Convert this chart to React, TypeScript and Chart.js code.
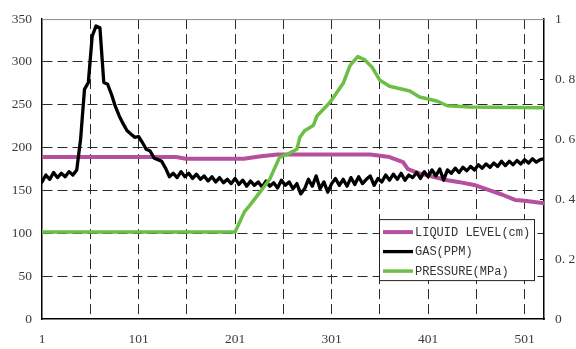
import React, { useEffect, useRef } from "react";
import { Chart, registerables } from "chart.js";

Chart.register(...registerables);

// ---- tick labels / grid positions ----
const xGridValues = [1, 51, 101, 151, 201, 251, 301, 351, 401, 451, 501];
const xTickLabels = ["1", "101", "201", "301", "401", "501"];
const rightTickLabels = ["0", "0. 2", "0. 4", "0. 6", "0. 8", "1"];

// ---- series ----
const seriesNames = ["LIQUID LEVEL(cm)", "GAS(PPM)", "PRESSURE(MPa)"];
const seriesColors = ["#B5509F", "#000000", "#6DBE45"];

// GAS (PPM), sampled every 4 samples starting at sample 1
const gasStart = 1;
const gasStep = 4;
const gasValues = [
  160, 168, 163, 171, 165, 170, 166, 172, 168, 174,
  210, 268, 276, 330, 342, 340, 276, 274, 262, 248,
  237, 228, 220, 216, 212, 213, 206, 198, 196, 188,
  186, 184, 176, 166, 170, 165, 172, 166, 170, 164,
  169, 163, 167, 161, 166, 160, 165, 159, 163, 158,
  164, 157, 162, 155, 161, 156, 160, 154, 161, 155,
  159, 153, 162, 156, 160, 152, 158, 146, 152, 163,
  155, 167, 152, 160, 148, 158, 164, 156, 163, 155,
  165, 157, 166, 158, 163, 167, 156, 164, 160, 168,
  162, 169, 163, 170, 162, 168, 165, 171, 164, 172,
  166, 174, 167, 175, 162, 174, 170, 176, 171, 177,
  173, 178, 174, 180, 176, 181, 177, 182, 178, 184,
  179, 184, 180, 185, 181, 186, 182, 187, 183, 186,
  187,
];

// LIQUID LEVEL (cm)
const levelIndex = [1, 140, 150, 210, 228, 245, 341, 361, 375, 380, 392, 421, 432, 450, 465, 478, 491, 501, 521];
const levelValues = [189, 189, 187, 187, 190, 192, 192, 189, 183, 175, 170, 162, 160, 156, 150, 145, 139, 138, 135];

// PRESSURE (MPa)
const pressureIndex = [1, 201, 211, 216, 227, 237, 247, 255, 265, 268, 273, 282, 286, 296, 301, 313, 320, 328, 335, 343, 351, 361, 382, 392, 410, 421, 444, 521];
const pressureValues = [0.29, 0.29, 0.359, 0.378, 0.424, 0.467, 0.539, 0.549, 0.566, 0.605, 0.628, 0.645, 0.678, 0.711, 0.73, 0.786, 0.845, 0.875, 0.865, 0.839, 0.796, 0.776, 0.76, 0.74, 0.727, 0.711, 0.707, 0.704];

const tickFont = { family: "'Liberation Serif', serif", size: 13.5 };
const tickColor = "#3a3a3a";
const gridColor = "#2a2a2a";

const framePlugin = {
  id: "frame",
  beforeDatasetsDraw(chart: any) {
    const { ctx, chartArea } = chart;
    ctx.save();
    ctx.strokeStyle = "#8a8a8a";
    ctx.lineWidth = 1;
    ctx.beginPath();
    ctx.moveTo(chartArea.left, chartArea.top + 0.5);
    ctx.lineTo(chartArea.right, chartArea.top + 0.5);
    ctx.stroke();
    const s = chart.scales.y1;
    ctx.strokeStyle = "#000";
    ctx.beginPath();
    s.ticks.forEach((t: any) => {
      if (t.value <= 0 || t.value >= 1) return;
      const py = Math.round(s.getPixelForValue(t.value)) + 0.5;
      ctx.moveTo(chartArea.right - 4, py);
      ctx.lineTo(chartArea.right, py);
    });
    ctx.stroke();
    ctx.restore();
  },
};

const legendPlugin = {
  id: "boxLegend",
  afterDraw(chart: any) {
    const { ctx, chartArea } = chart;
    const bx = chartArea.right - 165;
    const by = chartArea.top + 200;
    const bw = 155;
    const bh = 61;
    ctx.save();
    ctx.fillStyle = "#fff";
    ctx.fillRect(bx, by, bw, bh);
    ctx.strokeStyle = "#222";
    ctx.lineWidth = 1;
    ctx.strokeRect(bx + 0.5, by + 0.5, bw, bh);
    ctx.font = "12px 'Liberation Mono', monospace";
    ctx.textBaseline = "middle";
    ctx.textAlign = "left";
    chart.data.datasets.forEach((ds: any, i: number) => {
      const ry = by + 13 + i * 19.5;
      ctx.strokeStyle = ds.borderColor;
      ctx.lineWidth = ds.borderWidth;
      ctx.beginPath();
      ctx.moveTo(bx + 4, ry);
      ctx.lineTo(bx + 34, ry);
      ctx.stroke();
      ctx.fillStyle = "#333";
      ctx.fillText(ds.label, bx + 36, ry + 0.5);
    });
    ctx.restore();
  },
};

export default function App() {
  const ref = useRef<HTMLCanvasElement>(null);

  useEffect(() => {
    if (!ref.current) return;
    const gasData = gasValues.map((v, i) => ({ x: gasStart + gasStep * i, y: v }));
    const levelData = levelValues.map((v, i) => ({ x: levelIndex[i], y: v }));
    const pressureData = pressureValues.map((v, i) => ({ x: pressureIndex[i], y: v }));

    const chart = new Chart(ref.current, {
      type: "line",
      data: {
        datasets: [
          { label: seriesNames[0], data: levelData, borderColor: seriesColors[0], borderWidth: 4, yAxisID: "y", order: 3 },
          { label: seriesNames[1], data: gasData, borderColor: seriesColors[1], borderWidth: 3.3, yAxisID: "y", order: 2 },
          { label: seriesNames[2], data: pressureData, borderColor: seriesColors[2], borderWidth: 3.5, yAxisID: "y1", order: 1 },
        ],
      },
      options: {
        animation: false,
        responsive: true,
        maintainAspectRatio: false,
        layout: { padding: { top: 15, left: 0, right: 0, bottom: 0 } },
        elements: {
          point: { radius: 0 },
          line: { tension: 0, borderJoinStyle: "round", borderCapStyle: "round", fill: false },
        },
        plugins: { legend: { display: false }, tooltip: { enabled: false } },
        scales: {
          x: {
            type: "linear",
            min: 1,
            max: 521,
            afterBuildTicks: (s: any) => {
              s.ticks = xGridValues.map((v) => ({ value: v }));
            },
            afterFit: (s: any) => {
              s.height = 30;
            },
            ticks: {
              autoSkip: false,
              maxRotation: 0,
              padding: 12,
              font: tickFont,
              color: tickColor,
              callback: (v: any) => (xTickLabels.includes(String(v)) ? String(v) : ""),
            },
            grid: {
              drawTicks: false,
              lineWidth: 1,
              color: (c: any) => (c.tick && c.tick.value === 1 ? "rgba(0,0,0,0)" : gridColor),
            },
            border: { display: true, color: "#000", width: 1.5, dash: [10, 5] },
          },
          y: {
            position: "left",
            min: 0,
            max: 350,
            afterFit: (s: any) => {
              s.width = 42;
            },
            ticks: { stepSize: 50, padding: 10, font: tickFont, color: tickColor },
            grid: {
              drawTicks: false,
              lineWidth: 1,
              color: (c: any) =>
                c.tick && (c.tick.value === 0 || c.tick.value === 350) ? "rgba(0,0,0,0)" : gridColor,
            },
            border: { display: true, color: "#000", width: 1.5, dash: [10, 5] },
          },
          y1: {
            position: "right",
            min: 0,
            max: 1,
            afterFit: (s: any) => {
              s.width = 32;
            },
            ticks: {
              stepSize: 0.2,
              padding: 11,
              font: tickFont,
              color: tickColor,
              callback: (v: any) => rightTickLabels[Math.round(Number(v) * 5)],
            },
            grid: { drawOnChartArea: false, drawTicks: false },
            border: { display: true, color: "#000", width: 1.5 },
          },
        },
      } as any,
      plugins: [framePlugin, legendPlugin],
    });
    return () => chart.destroy();
  }, []);

  return (
    <div style={{ position: "fixed", left: 0, top: 0, width: 576, height: 349, background: "#fff" }}>
      <canvas ref={ref} />
    </div>
  );
}
